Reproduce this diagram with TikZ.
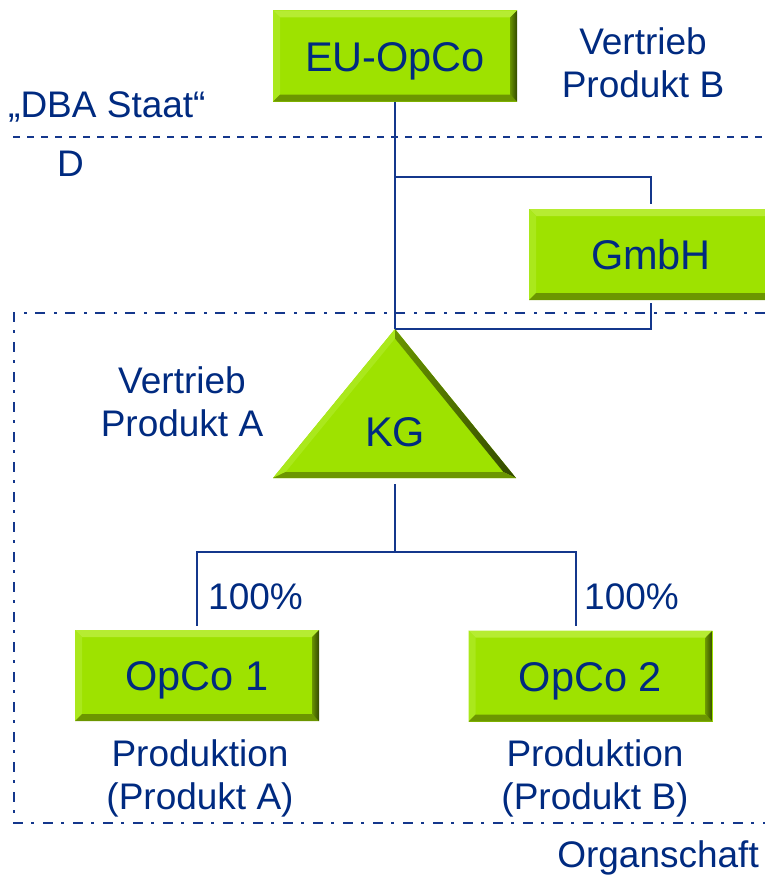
\documentclass[tikz,border=0pt]{standalone}
\usepackage{fontspec}
\setmainfont{Liberation Sans}
\definecolor{gmain}{RGB}{158,226,0}
\definecolor{glight}{RGB}{182,236,50}
\definecolor{gleft}{RGB}{170,232,28}
\definecolor{gbot}{RGB}{108,150,0}
\definecolor{grin}{RGB}{105,148,0}
\definecolor{grout}{RGB}{50,72,0}
\definecolor{tblue}{RGB}{0,42,128}
\definecolor{lblue}{RGB}{20,55,140}
\newcommand\boxfont{\fontsize{41.5}{50}\selectfont}
\newcommand\lblfont{\fontsize{37}{43}\selectfont}
\tikzset{
  x=1pt, y=-1pt,
  gbox/.style={rectangle, inner sep=0pt, minimum width=244pt, minimum height=91pt,
    fill=gmain, text=tblue, font=\boxfont, text height=30pt, text depth=0pt,
    path picture={
      \path (path picture bounding box.north west) coordinate (@nw)
            (path picture bounding box.north east) coordinate (@ne)
            (path picture bounding box.south west) coordinate (@sw)
            (path picture bounding box.south east) coordinate (@se);
      \fill[glight] (@nw) -- (@ne) -- ([shift={(-7pt,-7pt)}]@ne) -- ([shift={(7pt,-7pt)}]@nw) -- cycle;
      \fill[gleft] (@nw) -- ([shift={(7pt,-7pt)}]@nw) -- ([shift={(7pt,7pt)}]@sw) -- (@sw) -- cycle;
      \fill[gbot] (@sw) -- ([shift={(7pt,7pt)}]@sw) -- ([shift={(-7pt,7pt)}]@se) -- (@se) -- cycle;
      \shade[left color=grin, right color=grout] (@ne) -- (@se) -- ([shift={(-7pt,7pt)}]@se) -- ([shift={(-7pt,-7pt)}]@ne) -- cycle;
    }},
  lbl/.style={text=tblue, font=\lblfont, inner sep=0pt, align=center},
  conn/.style={draw=lblue, line width=2pt},
  border/.style={draw=lblue, line width=2.4pt},
}
\begin{document}
\begin{tikzpicture}
\useasboundingbox (0,0) rectangle (765,875);
\clip (0,0) rectangle (765,875);

% frontier lines
\draw[border, dash pattern=on 7pt off 7pt] (13,137) -- (765,137);
\draw[border, dash pattern=on 10pt off 8pt on 3pt off 9pt] (765,313) -| (14,823) -- (765,823);

% connector coordinates
\coordinate (kgtop) at (395,329);
\coordinate (kgbot) at (395,478);
\coordinate (j1) at (395,177);
\coordinate (j2) at (395,552);

% boxes
\node[gbox] (EU) at (395,56) {EU-OpCo};
\node[gbox] (GmbH) at (651,254.5) {GmbH};
\node[gbox] (OpCo1) at (197,675.5) {OpCo 1};
\node[gbox] (OpCo2) at (590.5,676) {OpCo 2};

% triangle KG
\fill[gmain] (395,329) -- (273,478) -- (516,478) -- cycle;
\fill[gleft] (395,329) -- (273,478) -- (285.6,472) -- (395,338.5) -- cycle;
\shade[left color=grin, right color=grout] (395,329) -- (516,478) -- (503.4,472) -- (395,338.5) -- cycle;
\fill[gbot] (273,478) -- (516,478) -- (503.4,472) -- (285.6,472) -- cycle;
\node[text=tblue, font=\boxfont, inner sep=0pt, text height=30pt, text depth=0pt] (KG) at (395,431.5) {KG};

% connectors
\draw[conn] (EU.south) -- (kgtop);
\draw[conn] (j1) -| ([yshift=5pt]GmbH.north);
\draw[conn] ([yshift=-3pt]GmbH.south) |- (kgtop);
\draw[conn] ([yshift=-6pt]kgbot) -- (j2);
\draw[conn] ([yshift=4pt]OpCo1.north) |- (j2) -| ([xshift=-14.5pt,yshift=4pt]OpCo2.north);

% labels
\node[lbl] (vB) at (643,63) {Vertrieb\\Produkt B};
\node[lbl, anchor=base west] (dba) at (8,117) {„DBA Staat“};
\node[lbl, anchor=base west] (dl) at (57,176) {D};
\node[lbl] (vA) at (182,402) {Vertrieb\\Produkt A};
\node[lbl, anchor=base west] (p1) at (208,609) {100\%};
\node[lbl, anchor=base west] (p2) at (584,609) {100\%};
\node[lbl] (prA) at (200,778) {Produktion\\(Produkt A)};
\node[lbl] (prB) at (595,778) {Produktion\\(Produkt B)};
\node[lbl, anchor=base east] (org) at (759,867) {Organschaft};
\end{tikzpicture}
\end{document}
